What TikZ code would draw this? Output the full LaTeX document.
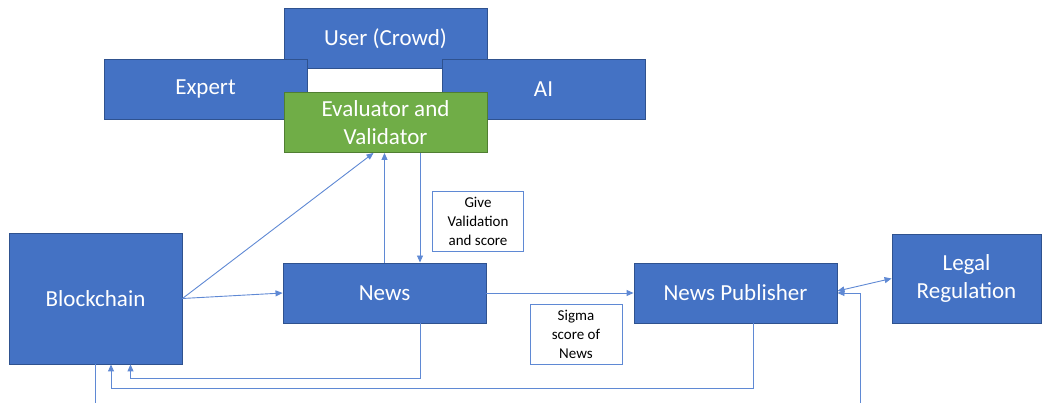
\documentclass[tikz,border=0pt]{standalone}
\usepackage{fontspec}
\setmainfont{Carlito}
\usetikzlibrary{arrows.meta,calc}

\definecolor{boxblue}{HTML}{4472C4}
\definecolor{boxedge}{HTML}{2F528F}
\definecolor{boxgreen}{HTML}{70AD47}
\definecolor{greenedge}{HTML}{507E32}
\definecolor{linkblue}{HTML}{5F89D4}

\tikzset{
  bluebox/.style={draw=boxedge, fill=boxblue, line width=0.9pt, text=white,
    align=center, inner sep=0pt,
    font=\fontsize{23}{27.5}\selectfont},
  greenbox/.style={bluebox, draw=greenedge, fill=boxgreen},
  notebox/.style={draw=linkblue, fill=white, line width=0.9pt, text=black,
    align=center, inner sep=0pt,
    font=\fontsize{15}{19}\selectfont},
  link/.style={draw=linkblue, line width=0.9pt},
  arr/.style={link, -{Triangle[length=7pt,width=6pt]}},
  dblarr/.style={link, {Triangle[length=7pt,width=6pt]}-{Triangle[length=7pt,width=6pt]}},
}

\begin{document}
\begin{tikzpicture}[x=1pt,y=-1pt]
  \useasboundingbox (0,0) rectangle (1045,403);

  % evaluation group at the top
  \node[bluebox, minimum width=203pt, minimum height=60pt] (user) at (385.5,38.3) {User (Crowd)};
  \node[bluebox, minimum width=203pt, minimum height=60pt] (expert) at (205.5,89) {Expert};
  \node[bluebox, minimum width=203pt, minimum height=60pt] (ai) at (543.5,89) {AI};
  \node[greenbox, minimum width=203pt, minimum height=60pt] (eval) at (385.5,122.5) {Evaluator and\\Validator};

  % main flow
  \node[bluebox, minimum width=173pt, minimum height=131pt] (bc) at (95.5,298.5) {Blockchain};
  \node[bluebox, minimum width=203pt, minimum height=60pt] (news) at (384.5,293) {News};
  \node[bluebox, minimum width=203pt, minimum height=60pt] (pub) at (735.5,293) {News Publisher};
  \node[bluebox, minimum width=149pt, minimum height=89pt] (legal) at (966.5,278.5) {Legal\\Regulation};

  % annotation boxes
  \node[notebox, minimum width=91pt, minimum height=60pt] (give) at (478,221.5) {Give\\Validation\\and score};
  \node[notebox, minimum width=92pt, minimum height=60pt] (sigma) at (576,334) {Sigma\\score of\\News};

  % free ends at the lower edge
  \coordinate (bcout) at (95.5,403);
  \coordinate (regin) at (860,403);
  \coordinate (c1) at (420,378.7);
  \coordinate (c2) at (753,388);

  % connectors
  \draw[arr] (bc.east) -- (news.west);
  \draw[arr] (bc.east) -- ([xshift=-12pt]eval.south);
  \draw[arr] (news.north) -- (news.north |- eval.south);
  \draw[arr] ([xshift=34.5pt]eval.south) -- ([xshift=35.5pt]news.north);
  \draw[arr] (news.east) -- (pub.west);
  \draw[arr] (news.south -| c1) -- (c1) -| ([xshift=35pt]bc.south);
  \draw[arr] (pub.south -| c2) -- (c2) -| ([xshift=15.5pt]bc.south);
  \draw[link] (bc.south) -- (bcout);
  \draw[arr] (regin) |- (pub.east);
  \draw[dblarr] ([yshift=2pt]pub.east) -- (legal.west);
\end{tikzpicture}
\end{document}
